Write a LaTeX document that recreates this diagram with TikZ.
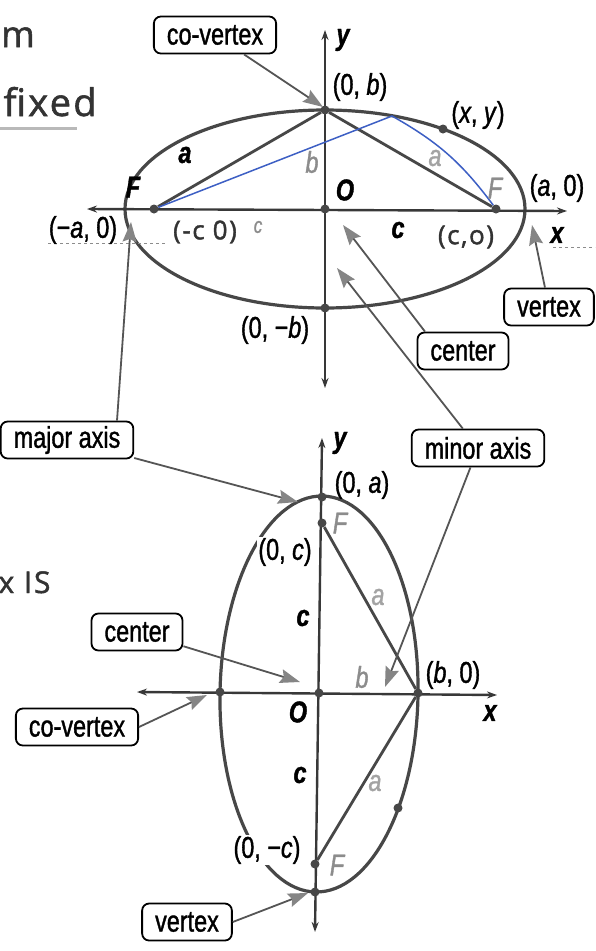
\documentclass[tikz,border=0pt]{standalone}
\usepackage{fontspec}
\setmainfont{Liberation Sans}
\newfontfamily\lblfont[FakeStretch=0.78, FakeBold=1.2]{Liberation Sans}
\newfontfamily\handfont[LetterSpace=6, FakeBold=1.5]{Open Sans}
\usetikzlibrary{arrows.meta}
\definecolor{Curve}{HTML}{474747}
\definecolor{Axis}{HTML}{383838}
\definecolor{Lead}{HTML}{555555}
\definecolor{Tip}{HTML}{858585}
\definecolor{Faint}{HTML}{8C8C8C}
\definecolor{Pen}{HTML}{333333}
\definecolor{Locus}{HTML}{3D5FC4}
\newcommand{\lblsize}{\fontsize{30}{32}\selectfont}

\begin{document}
\begin{tikzpicture}[x=1pt, y=-1pt,
    callout/.style={rectangle, draw=black, line width=1.8pt, rounded corners=7pt, fill=white, minimum height=37pt, inner xsep=13pt, inner ysep=2pt, font=\lblfont\lblsize},
    pointer/.style={-{Stealth[length=20pt, width=14pt, inset=3pt, color=Tip]}, line width=1.8pt, draw=Lead},
    axis/.style={{Stealth[length=10pt, width=7pt]}-{Stealth[length=10pt, width=7pt]}, line width=2.4pt, draw=Axis},
    rim/.style={line width=3.2pt, draw=Curve},
    chord/.style={line width=2.8pt, draw=Curve},
    locus/.style={line width=1.5pt, draw=Locus},
    dot/.style={circle, fill=Curve, inner sep=0pt, minimum size=9pt},
    coordlbl/.style={font=\lblfont\lblsize},
    var/.style={font=\lblfont\lblsize\bfseries\itshape},
    dim/.style={font=\lblfont\lblsize\itshape, text=Faint},
    hand/.style={font=\handfont\fontsize{30}{32}\selectfont, text=Pen}
]
    \fill[white] (0,0) rectangle (595,951);
    \useasboundingbox (0,0) rectangle (595,951);

    % Handwritten notes on the margin
    \node[hand, font=\handfont\fontsize{36}{38}\selectfont, anchor=base west, inner xsep=0pt] (note1) at (1,47) {m};
    \node[hand, font=\handfont\fontsize{38}{40}\selectfont, anchor=base west] (note2) at (0,116) {fixed};
    \draw[line width=3pt, color=gray!55] (0,128) -- (77,128);
    \node[hand, anchor=base east] (note3) at (54,593) {x IS};

    % Top ellipse (major axis horizontal)
    \draw[rim] (325,209) ellipse [x radius=200, y radius=99];
    \coordinate (xl1) at (87,209);
    \coordinate (xr1) at (567,211);
    \coordinate (yt1) at (325,30);
    \coordinate (yb1) at (325,388);
    \draw[axis] (xl1) -- (xr1);
    \draw[axis] (yt1) -- (yb1);
    \node[dot] (o1) at (325,209) {};
    \node[dot] (f1l) at (154,209) {};
    \node[dot] (f1r) at (496,209) {};
    \node[dot] (b1t) at (325,110) {};
    \node[dot] (b1b) at (325,308) {};
    \node[dot] (pxy) at (443,129) {};
    \coordinate (pblue) at (392,116);
    \draw[chord] (f1l) -- (b1t) -- (f1r);
    \draw[locus] (f1l) -- (pblue) to[bend left=12] (f1r);
    \draw[Faint, dashed, line width=0.8pt] (48,243) -- (166,243);
    \draw[Faint, dashed, line width=0.8pt] (553,247) -- (595,247);

    \node[var] (ylbl1) at (343,40) {y};
    \node[coordlbl] (b1tlbl) at (360,87) {(0, \textit{b})};
    \node[coordlbl] (pxylbl) at (478,115) {(\textit{x}, \textit{y})};
    \node[var] (alft) at (185,155) {a};
    \node[dim] (bmid) at (312,162) {b};
    \node[dim, text=Faint!80] (argt) at (435,158) {a};
    \node[var] (f1llbl) at (133,187) {F};
    \node[var] (o1lbl) at (345,190) {O};
    \node[dim] (f1rlbl) at (495,188) {F};
    \node[coordlbl] (v1rlbl) at (557,188) {(\textit{a}, 0)};
    \node[var] (xlbl1) at (557,235) {x};
    \node[coordlbl] (v1llbl) at (83,230) {(−\textit{a}, 0)};
    \node[hand, font=\handfont\fontsize{26}{28}\selectfont] (f1lhand) at (205,232) {(-c\hspace{8pt}0)};
    \node[dim, font=\lblfont\fontsize{22}{24}\selectfont\itshape] (clft) at (258,227) {c};
    \node[var] (crgt) at (398,230) {c};
    \node[hand, font=\handfont\fontsize{26}{28}\selectfont] (f1rhand) at (466,237) {(c,o)};
    \node[coordlbl] (b1blbl) at (275,330) {(0, −\textit{b})};

    % Bottom ellipse (major axis vertical)
    \draw[rim, rotate around={-1:(319,694)}] (319,694) ellipse [x radius=99, y radius=198];
    \coordinate (xl2) at (137,692);
    \coordinate (xr2) at (497,695);
    \coordinate (yt2) at (322,438);
    \coordinate (yb2) at (315,932);
    \draw[axis] (xl2) -- (xr2);
    \draw[axis] (yt2) -- (yb2);
    \node[dot] (a2t) at (322,497) {};
    \node[dot] (f2t) at (322,523) {};
    \node[dot] (o2) at (319,693) {};
    \node[dot] (b2r) at (418,693) {};
    \node[dot] (b2l) at (220,692) {};
    \node[dot] (f2b) at (315,864) {};
    \node[dot] (a2b) at (315,892) {};
    \node[dot] (p2) at (398,808) {};
    \draw[chord] (f2t) -- (b2r) -- (f2b);

    \node[var] (ylbl2) at (340,443) {y};
    \node[coordlbl] (a2tlbl) at (362,485) {(0, \textit{a})};
    \node[dim] (f2tlbl) at (340,523) {F};
    \node[coordlbl, fill=white, inner sep=1pt] (f2tcoord) at (285,552) {(0, \textit{c})};
    \node[dim, text=Faint!80] (aup) at (378,597) {a};
    \node[var] (cup) at (303,618) {c};
    \node[dim] (bright) at (362,677) {b};
    \node[coordlbl] (b2rlbl) at (453,675) {(\textit{b}, 0)};
    \node[var] (o2lbl) at (298,712) {O};
    \node[var] (xlbl2) at (490,713) {x};
    \node[var] (cdown) at (300,775) {c};
    \node[dim, text=Faint!80] (adown) at (375,783) {a};
    \node[coordlbl, fill=white, inner sep=1pt] (f2bcoord) at (267,850) {(0, −\textit{c})};
    \node[dim] (f2blbl) at (337,865) {F};

    % Callouts
    \node[callout] (covtxA) at (215,35) {co-vertex};
    \node[callout] (vtxA) at (549,307) {vertex};
    \node[callout] (ctrA) at (463,351) {center};
    \node[callout] (majax) at (67,440) {major axis};
    \node[callout] (minax) at (478,448) {minor axis};
    \node[callout] (ctrB) at (137,632) {center};
    \node[callout] (covtxB) at (77,727) {co-vertex};
    \node[callout] (vtxB) at (187,922) {vertex};

    \coordinate (tipcovA) at (323,107);
    \coordinate (tipvtxA) at (532,225);
    \coordinate (tipctrA) at (343,225);
    \coordinate (tipminA) at (337,268);
    \coordinate (tipmajA) at (131,222);
    \coordinate (tipmajB) at (298,502);
    \coordinate (tipminB) at (385,687);
    \coordinate (tipctrB) at (300,682);
    \coordinate (tipcovB) at (207,695);
    \coordinate (tipvtxB) at (308,893);

    \draw[pointer] (covtxA) -- (tipcovA);
    \draw[pointer] (vtxA) -- (tipvtxA);
    \draw[pointer] ([xshift=-38pt]ctrA.north) -- (tipctrA);
    \draw[pointer] (minax) -- (tipminA);
    \draw[pointer] (minax) -- (tipminB);
    \draw[pointer] ([xshift=50pt]majax.north) -- (tipmajA);
    \draw[pointer] (majax) -- (tipmajB);
    \draw[pointer] (ctrB) -- (tipctrB);
    \draw[pointer] (covtxB.east) -- (tipcovB);
    \draw[pointer] (vtxB.east) -- (tipvtxB);
\end{tikzpicture}
\end{document}
